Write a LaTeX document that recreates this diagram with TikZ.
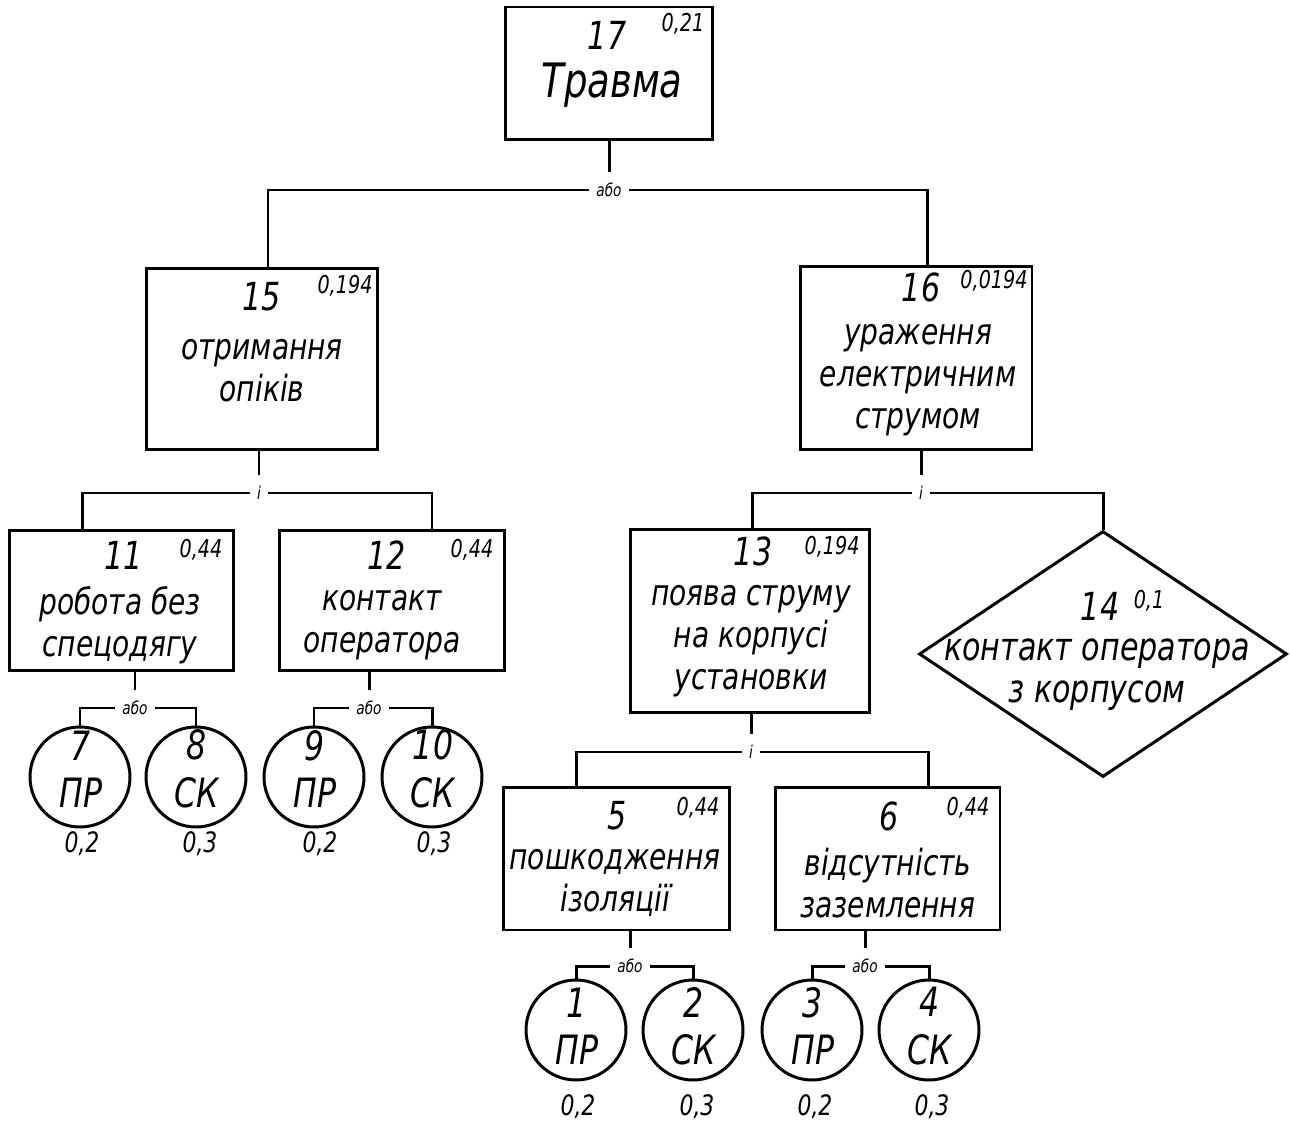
\documentclass[tikz,border=0pt]{standalone}
\usepackage{fontspec}
\setmainfont{DejaVu Sans}[FakeStretch=0.78]
\usetikzlibrary{shapes.geometric}

\begin{document}
\begin{tikzpicture}[x=0.02cm,y=-0.02cm]
    \tikzstyle{every node}+=[inner sep=0pt]
    \tikzstyle{box}=[draw, line width=1.7pt, rectangle]
    \tikzstyle{evt}=[draw, line width=1.7pt, circle, minimum size=2cm]
    \tikzstyle{num}=[font=\itshape\fontsize{22}{24}\selectfont]
    \tikzstyle{prob}=[font=\itshape\fontsize{14}{16}\selectfont]
    \tikzstyle{txt}=[align=center, font=\itshape\fontsize{20.5}{24}\selectfont]
    \tikzstyle{etxt}=[align=center, font=\itshape\fontsize{23}{27}\selectfont]
    \tikzstyle{eprob}=[font=\itshape\fontsize{16}{18}\selectfont]
    \tikzstyle{gate}=[minimum height=0.72cm, inner xsep=4pt, font=\itshape\fontsize{10}{10}\selectfont]
    \tikzstyle{link}=[line width=1.7pt]
    \useasboundingbox (0,0) rectangle (1290,1124);
    % 17
    \node [box, minimum width=4.16cm, minimum height=2.66cm] (b17) at (609,73.5) {};
    \node [num] (n17) at (607,35) {17};
    \node [prob] (p17) at (683,24) {0,21};
    \node [txt, font=\itshape\fontsize{27}{28}\selectfont] (t17) at (612,85) {Травма};
    % 15
    \node [box, minimum width=4.64cm, minimum height=3.64cm] (b15) at (262,359) {};
    \node [num] (n15) at (262,297) {15};
    \node [prob] (p15) at (345,286) {0,194};
    \node [txt] (t15) at (262,371) {отримання\\опіків};
    % 16
    \node [box, minimum width=4.64cm, minimum height=3.68cm] (b16) at (916,358) {};
    \node [num] (n16) at (921,287) {16};
    \node [prob] (p16) at (994,281) {0,0194};
    \node [txt] (t16) at (918,380) {ураження\\електричним\\струмом};
    % 11
    \node [box, minimum width=4.5cm, minimum height=2.82cm] (b11) at (121.5,600.5) {};
    \node [num] (n11) at (124,555) {11};
    \node [prob] (p11) at (201,550) {0,44};
    \node [txt] (t11) at (120,625) {робота без\\спецодягу};
    % 12
    \node [box, minimum width=4.52cm, minimum height=2.82cm] (b12) at (392,600.5) {};
    \node [num] (n12) at (387,555) {12};
    \node [prob] (p12) at (472,550) {0,44};
    \node [txt] (t12) at (382,625) {контакт\\оператора};
    % 13
    \node [box, minimum width=4.8cm, minimum height=3.68cm] (b13) at (750,621) {};
    \node [num] (n13) at (753,551) {13};
    \node [prob] (p13) at (832,547) {0,194};
    \node [txt] (t13) at (751,641) {поява струму\\на корпусі\\установки};
    % 14
    \node [draw, line width=1.7pt, diamond, minimum width=7.36cm, minimum height=4.92cm] (d14) at (1103,654) {};
    \node [num] (n14) at (1100,606) {14};
    \node [prob] (p14) at (1149,601) {0,1};
    \node [txt, font=\itshape\fontsize{22}{24}\selectfont] (t14) at (1097,675) {контакт оператора\\з корпусом};
    % 5
    \node [box, minimum width=4.54cm, minimum height=2.86cm] (b5) at (616.5,858.5) {};
    \node [num] (n5) at (617,816) {5};
    \node [prob] (p5) at (698,808) {0,44};
    \node [txt] (t5) at (615,883) {пошкодження\\ізоляції};
    % 6
    \node [box, minimum width=4.5cm, minimum height=2.86cm] (b6) at (887.5,858.5) {};
    \node [num] (n6) at (889,816) {6};
    \node [prob] (p6) at (968,808) {0,44};
    \node [txt] (t6) at (888,883) {відсутність\\заземлення};
    % basic events
    \node [evt] (c7) at (80,777) {};
    \node [etxt] (e7) at (81,769) {7\\ПР};
    \node [eprob] (q7) at (82,844) {0,2};
    \node [evt] (c8) at (196,777) {};
    \node [etxt] (e8) at (197,769) {8\\СК};
    \node [eprob] (q8) at (200,844) {0,3};
    \node [evt] (c9) at (314,777) {};
    \node [etxt] (e9) at (315,769) {9\\ПР};
    \node [eprob] (q9) at (320,844) {0,2};
    \node [evt] (c10) at (432,777) {};
    \node [etxt] (e10) at (433,769) {10\\СК};
    \node [eprob] (q10) at (434,844) {0,3};
    \node [evt] (c1) at (576,1030) {};
    \node [etxt] (e1) at (577,1026) {1\\ПР};
    \node [eprob] (q1) at (578,1107) {0,2};
    \node [evt] (c2) at (693,1030) {};
    \node [etxt] (e2) at (694,1026) {2\\СК};
    \node [eprob] (q2) at (697,1107) {0,3};
    \node [evt] (c3) at (812,1030) {};
    \node [etxt] (e3) at (813,1026) {3\\ПР};
    \node [eprob] (q3) at (815,1107) {0,2};
    \node [evt] (c4) at (929,1030) {};
    \node [etxt] (e4) at (930,1026) {4\\СК};
    \node [eprob] (q4) at (932,1107) {0,3};
    % gates
    \node [gate] (g17) at (609,190) {або};
    \node [gate] (g15) at (259,493) {і};
    \node [gate] (g16) at (921,493) {і};
    \node [gate] (g11) at (135,708) {або};
    \node [gate] (g12) at (369,708) {або};
    \node [gate] (g13) at (751,752) {і};
    \node [gate] (g5) at (630,966) {або};
    \node [gate] (g6) at (865,966) {або};
    % links
    \draw [link] (b17) -- (g17);
    \draw [link] ([xshift=0.12cm]b15.north) |- (g17.west);
    \draw [link] ([xshift=0.22cm]b16.north) |- (g17.east);
    \draw [link] (g15.north |- b15.south) -- (g15.north);
    \draw [link] ([xshift=-0.79cm]b11.north) |- (g15.west);
    \draw [link] ([xshift=0.8cm]b12.north) |- (g15.east);
    \draw [link] (g16.north |- b16.south) -- (g16.north);
    \draw [link] ([xshift=0.04cm]b13.north) |- (g16.west);
    \draw [link] (d14.north) |- (g16.east);
    \draw [link] (g11.north |- b11.south) -- (g11.north);
    \draw [link] (c7.north) |- (g11.west);
    \draw [link] (c8.north) |- (g11.east);
    \draw [link] (g12.north |- b12.south) -- (g12.north);
    \draw [link] (c9.north) |- (g12.west);
    \draw [link] (c10.north) |- (g12.east);
    \draw [link] (g13.north |- b13.south) -- (g13.north);
    \draw [link] ([xshift=-0.81cm]b5.north) |- (g13.west);
    \draw [link] ([xshift=0.81cm]b6.north) |- (g13.east);
    \draw [link] (g5.north |- b5.south) -- (g5.north);
    \draw [link] (c1.north) |- (g5.west);
    \draw [link] (c2.north) |- (g5.east);
    \draw [link] (g6.north |- b6.south) -- (g6.north);
    \draw [link] (c3.north) |- (g6.west);
    \draw [link] (c4.north) |- (g6.east);
\end{tikzpicture}
\end{document}
